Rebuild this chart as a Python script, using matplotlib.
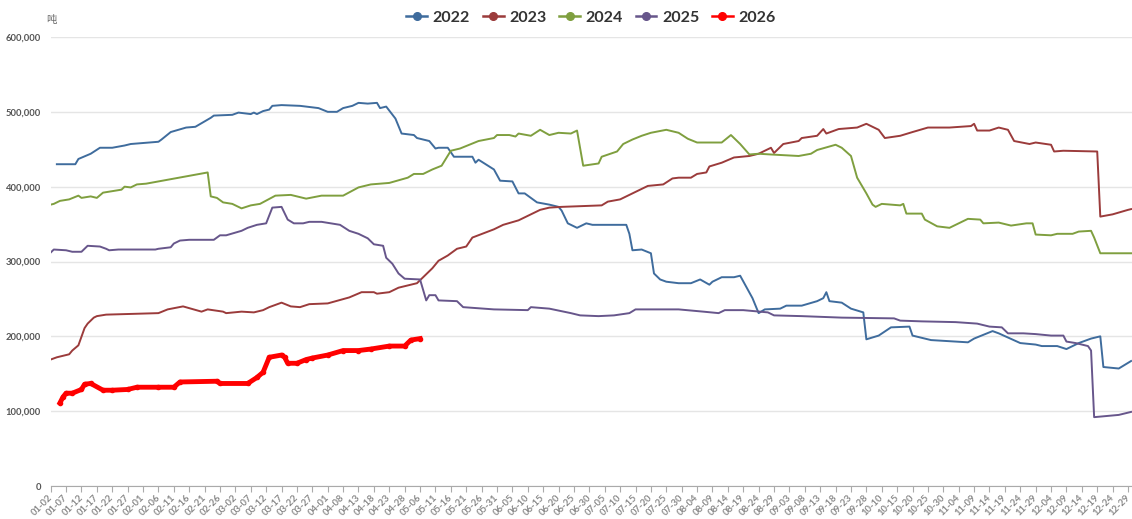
import matplotlib.pyplot as plt
from matplotlib.lines import Line2D
import matplotlib.transforms as mtransforms
import numpy as np

# tick labels, one every 5 date slots
dates = ['01-02', '01-07', '01-12', '01-17', '01-22', '01-27', '02-01', '02-06', '02-11', '02-16',
         '02-21', '02-26', '03-02', '03-07', '03-12', '03-17', '03-22', '03-27', '04-01', '04-08',
         '04-13', '04-18', '04-23', '04-28', '05-06', '05-11', '05-16', '05-21', '05-26', '05-31',
         '06-05', '06-10', '06-15', '06-20', '06-25', '06-30', '07-05', '07-10', '07-15', '07-20',
         '07-25', '07-30', '08-04', '08-09', '08-14', '08-19', '08-24', '08-29', '09-03', '09-08',
         '09-13', '09-18', '09-23', '09-28', '10-10', '10-15', '10-20', '10-25', '10-30', '11-04',
         '11-09', '11-14', '11-19', '11-24', '11-29', '12-04', '12-09', '12-14', '12-19', '12-24',
         '12-29']

# slot index (5 slots per label) and stock in thousand tonnes
x_2022 = [2, 8, 9, 13, 16, 20, 24, 26, 35, 36, 39, 44, 47, 52, 53, 59, 61, 65, 66, 67, 69, 71, 72, 75,
          81, 87, 90, 93, 95, 98, 100, 103, 106, 107, 109, 112, 114, 118, 119, 123, 125, 126, 129, 131,
          137, 138, 139, 144, 146, 150, 152, 154, 158, 162, 165, 166, 168, 171, 174, 176, 187, 188, 189,
          192, 195, 196, 198, 200, 204, 208, 211, 214, 215, 218, 222, 224, 228, 230, 232, 237, 239, 244,
          249, 251, 252, 253, 257, 260, 264, 265, 269, 273, 279, 280, 286, 298, 300, 306, 308, 315, 320,
          322, 327, 330, 334, 338, 341, 342, 347, 351]
y_2022 = [430, 430, 437, 444, 452, 452, 455, 457, 460, 463, 473, 479, 480, 492, 495, 496, 499, 497, 499,
          497, 501, 503, 508, 509, 508, 505, 500, 500, 505, 508, 512, 511, 512, 505, 507, 491, 471, 469,
          465, 461, 451, 452, 452, 440, 440, 432, 436, 423, 408, 407, 391, 391, 379, 376, 373, 368, 351,
          345, 351, 349, 349, 337, 315, 316, 311, 284, 276, 273, 271, 271, 276, 269, 273, 279, 279, 281,
          251, 231, 236, 237, 241, 241, 247, 251, 259, 247, 245, 237, 232, 196, 201, 212, 213, 201, 195,
          192, 197, 207, 204, 191, 189, 187, 187, 183, 191, 197, 200, 159, 157, 167]

x_2023 = [0, 2, 6, 7, 9, 11, 12, 14, 15, 18, 35, 38, 43, 49, 51, 56, 57, 62, 66, 69, 71, 75, 78, 81, 84,
          90, 97, 101, 105, 106, 110, 113, 116, 119, 121, 124, 126, 129, 132, 135, 137, 144, 147, 152,
          155, 159, 162, 166, 179, 181, 185, 188, 191, 194, 199, 202, 204, 208, 210, 213, 214, 218, 222,
          227, 230, 234, 235, 238, 243, 244, 249, 251, 252, 256, 262, 265, 269, 271, 276, 280, 285, 292,
          299, 300, 301, 305, 308, 311, 313, 318, 320, 325, 326, 329, 340, 341, 345, 350, 351]
y_2023 = [169, 172, 176, 181, 188, 211, 217, 225, 227, 229, 231, 236, 240, 233, 236, 233, 231, 233, 232,
          235, 239, 245, 240, 239, 243, 244, 252, 259, 259, 257, 259, 265, 268, 271, 279, 291, 301, 308,
          317, 320, 332, 343, 349, 355, 361, 369, 372, 373, 375, 380, 383, 389, 395, 401, 403, 411, 412,
          412, 417, 419, 427, 432, 439, 441, 444, 452, 445, 457, 461, 465, 468, 477, 471, 477, 479, 484,
          476, 465, 468, 473, 479, 479, 481, 484, 475, 475, 479, 476, 461, 457, 459, 456, 447, 448, 447,
          360, 363, 369, 370]

x_2024 = [0, 1, 3, 6, 9, 10, 13, 15, 17, 23, 24, 26, 28, 31, 51, 52, 54, 56, 59, 62, 65, 68, 73, 78, 83,
          88, 95, 100, 104, 110, 116, 118, 121, 124, 127, 130, 133, 139, 144, 145, 149, 151, 152, 156,
          159, 162, 165, 169, 171, 173, 178, 179, 184, 186, 189, 192, 195, 200, 204, 207, 210, 218, 221,
          224, 227, 230, 234, 243, 247, 249, 255, 257, 260, 262, 265, 267, 268, 270, 276, 277, 278, 283,
          284, 288, 292, 295, 298, 302, 303, 308, 312, 317, 319, 320, 325, 327, 332, 334, 338, 339, 341,
          351]
y_2024 = [376, 377, 381, 383, 388, 385, 387, 385, 392, 396, 400, 399, 403, 404, 419, 387, 385, 379, 377,
          371, 375, 377, 388, 389, 384, 388, 388, 399, 403, 405, 412, 417, 417, 423, 428, 448, 451, 461,
          465, 469, 469, 467, 471, 468, 476, 469, 472, 471, 475, 428, 431, 440, 447, 457, 463, 468, 472,
          476, 472, 464, 459, 459, 469, 457, 443, 444, 443, 441, 444, 449, 456, 452, 441, 412, 391, 376,
          373, 377, 375, 377, 364, 364, 356, 347, 345, 351, 357, 356, 351, 352, 348, 351, 351, 336, 335,
          337, 337, 340, 341, 332, 311, 311]

x_2025 = [0, 1, 5, 7, 10, 12, 16, 18, 19, 22, 34, 35, 39, 40, 42, 45, 53, 55, 57, 62, 64, 67, 70, 72, 75,
          77, 79, 82, 84, 88, 91, 94, 97, 100, 103, 105, 108, 109, 111, 113, 115, 120, 122, 123, 125, 126,
          132, 134, 144, 155, 156, 162, 169, 172, 178, 183, 188, 190, 204, 212, 217, 219, 225, 233, 235,
          244, 257, 274, 276, 283, 294, 301, 305, 309, 311, 316, 320, 325, 329, 330, 333, 337, 338, 339,
          347, 351]
y_2025 = [312, 316, 315, 313, 313, 321, 320, 317, 315, 316, 316, 317, 319, 324, 328, 329, 329, 335, 335,
          341, 345, 349, 351, 372, 373, 356, 351, 351, 353, 353, 351, 349, 341, 337, 331, 323, 321, 305,
          297, 284, 277, 276, 248, 255, 255, 248, 247, 239, 236, 235, 239, 237, 231, 228, 227, 228, 231,
          236, 236, 233, 231, 235, 235, 232, 228, 227, 225, 224, 221, 220, 219, 217, 213, 212, 204, 204,
          203, 201, 201, 193, 191, 187, 181, 92, 95, 99]

x_2026 = [3, 4, 5, 7, 10, 11, 13, 17, 20, 25, 28, 35, 40, 42, 54, 55, 64, 67, 69, 71, 75, 76, 77, 80, 83,
          85, 90, 95, 100, 104, 110, 115, 117, 120]
y_2026 = [111, 119, 124, 124, 129, 136, 137, 128, 128, 129, 132, 132, 132, 139, 140, 137, 137, 145, 152,
          172, 175, 172, 164, 164, 169, 171, 175, 181, 181, 183, 187, 187, 195, 197]

years = ['2022', '2023', '2024', '2025', '2026']
colors = ['#3f6c9d', '#9b3b3b', '#7f9f3f', '#67568b', '#ff0000']
xs = [x_2022, x_2023, x_2024, x_2025, x_2026]
ys = [y_2022, y_2023, y_2024, y_2025, y_2026]

fig = plt.figure(figsize=(11.32, 5.19), dpi=100)
ax = fig.add_axes([50.7 / 1132, 33 / 519, (1132 - 50.7) / 1132, 449 / 519])

for i in range(5):
    yy = np.array(ys[i]) * 1000
    if years[i] == '2026':
        ax.plot(xs[i], yy, color=colors[i], lw=3.5, marker='o', ms=3, zorder=5)
    else:
        ax.plot(xs[i], yy, color=colors[i], lw=1.4, zorder=3)

ax.set_xlim(0, 351.3)
ax.set_ylim(0, 600000)
ax.set_yticks(np.arange(0, 600001, 100000))
ax.set_yticklabels([f'{v:,}' for v in range(0, 600001, 100000)], fontsize=6.8,
                   color='#555555', fontweight='bold', family='Lato')
ax.yaxis.grid(True, color='#e5e5e5', lw=1)
ax.set_axisbelow(True)
ax.tick_params(axis='y', length=0, pad=7)

ax.set_xticks(np.arange(len(dates)) * 5)
ax.set_xticklabels(dates, rotation=45, ha='right', rotation_mode='anchor',
                   fontsize=6.8, color='#8a8a8a', fontweight='bold', family='Lato')
ax.tick_params(axis='x', length=4, color='#aaaaaa', pad=1)
# nudge the rotated labels a bit left so the last one stays inside
shift = mtransforms.ScaledTranslation(-3 / 100, 0, fig.dpi_scale_trans)
for lab in ax.get_xticklabels():
    lab.set_transform(lab.get_transform() + shift)

for s in ['top', 'right', 'left']:
    ax.spines[s].set_visible(False)
ax.spines['bottom'].set_color('#aaaaaa')

fig.text(46 / 1132, 1 - 20 / 519, '吨', fontsize=7.5, color='#666666',
         family=['Noto Sans CJK SC', 'DejaVu Sans'], va='center')

handles = [Line2D([], [], color=c, lw=1.8, marker='o', ms=5.5) for c in colors]
fig.legend(handles, years, loc='center', bbox_to_anchor=(591 / 1132, 1 - 18 / 519), ncol=5,
           frameon=False, prop={'size': 11.5, 'weight': 'bold', 'family': 'Lato'},
           labelcolor='#333333', handlelength=1.3, handletextpad=0.35, columnspacing=0.8)

fig.savefig('out.png', dpi=100)
